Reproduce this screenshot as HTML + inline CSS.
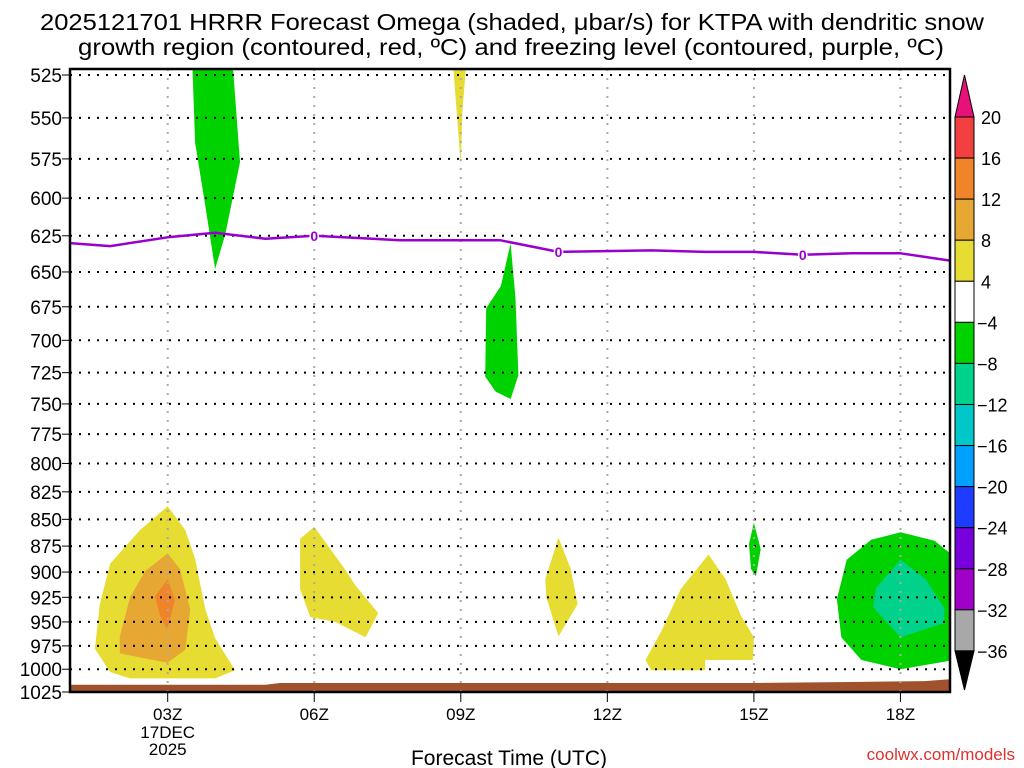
<!DOCTYPE html>
<html><head><meta charset="utf-8"><style>
body{margin:0;background:#fff;width:1024px;height:768px;overflow:hidden}
svg{display:block;font-family:"Liberation Sans Narrow","Liberation Sans",sans-serif}
</style></head><body>
<svg id="chart" width="1024" height="768" viewBox="0 0 1024 768">
<text x="40" y="30" font-size="23" textLength="944" lengthAdjust="spacingAndGlyphs">2025121701 HRRR Forecast Omega (shaded, μbar/s) for KTPA with dendritic snow</text>
<text x="78" y="55" font-size="23" textLength="866" lengthAdjust="spacingAndGlyphs">growth region (contoured, red, ºC) and freezing level (contoured, purple, ºC)</text>
<defs><clipPath id="pc"><rect x="70" y="69" width="880" height="623"/></clipPath></defs>
<g id="shades" clip-path="url(#pc)"></g>
<g id="grid"></g>
<g id="lines" clip-path="url(#pc)"></g>
<rect x="70" y="69" width="880" height="623" fill="none" stroke="#000" stroke-width="2.5"/>
<g id="axes"></g>
<g id="cbar"></g>
<text x="509" y="765" font-size="21" text-anchor="middle">Forecast Time (UTC)</text>
<text x="1015" y="760" font-size="17" fill="#e03030" text-anchor="end">coolwx.com/models</text>
</svg>
<script>
const pressureTicks=[525,550,575,600,625,650,675,700,725,750,775,800,825,850,875,900,925,950,975,1000,1025];
const hourTicks=[3,6,9,12,15,18];
const hourLabels=["03Z","06Z","09Z","12Z","15Z","18Z"];
const cbLevels=[20,16,12,8,4,-4,-8,-12,-16,-20,-24,-28,-32,-36];
const cbColors=["#f24040","#f08428","#e6a832","#e6dc32","#ffffff","#00d200","#00d28c","#00c8c8","#00a0ff","#1e3cff","#7800dc","#a000c8","#a8a8a8"];
// shaded regions: [hour, pressure]
const yellowBig=[[3,838],[2.43,860],[1.82,892],[1.61,932],[1.51,978],[1.82,1003],[2.23,1010],[3.97,1010],[4.38,1001],[3.97,967],[3.77,937],[3.56,887],[3.36,860]];
const orangeMid=[[3,882],[2.54,899],[2.23,925],[2.02,965],[2.02,983],[3,993],[3.36,979],[3.46,937],[3.25,897]];
const orangeCore=[[3,907],[2.74,924],[2.84,943],[2.99,958],[3.15,928]];
const yellow06=[[6,857],[5.71,868],[5.71,917],[5.92,945],[6.43,950],[7.05,966],[7.31,941],[6.84,913],[6.64,898]];
const yellow11=[[11,867],[10.73,907],[10.75,925],[11,965],[11.39,932],[11.25,897]];
const yellow14=[[14.07,883],[13.5,917],[13.1,960],[12.78,990],[12.9,1001],[14,1001],[14,990],[14.98,990],[15,966],[14.73,943],[14.42,907]];
const green15=[[15,853],[14.9,873],[14.94,897],[15.04,904],[15.14,878]];
const green18=[[18,862],[17.4,869],[16.9,888],[16.7,927],[16.79,966],[17.2,990],[18,1000],[19.1,990],[19.1,885],[18.7,870]];
const teal18=[[18,888],[17.5,916],[17.44,935],[18,966],[18.9,951],[18.9,936],[18.52,907]];
const green04=[[3.5,515],[4.32,515],[4.48,577],[4.18,624],[3.97,648],[3.77,605],[3.56,565]];
const yellow09=[[8.83,515],[9.12,515],[9.03,547],[9,579]];
const green10=[[10.02,630],[9.82,660],[9.52,676],[9.5,728],[9.71,740],[10.02,746],[10.18,727],[10.12,669]];
const frzHours=[1,1.82,3,3.97,5,6,7.76,9.8,11,12.9,14,15,16,17,18,19];
const frzPress=[630,632,626,623,627,625,628,628,636,635,636,636,638,637,637,642];
const sfcHours=[1,5,5.3,9,12,15,17,18.5,19];
const sfcPress=[1017,1017,1015,1015,1015,1015,1014,1013,1011];

const NS='http://www.w3.org/2000/svg';
const X=h=>70+(h-1)*48.85;
const L0=Math.log(525),L1=Math.log(1025);
const Y=p=>75+(Math.log(p)-L0)/(L1-L0)*617;
function mk(t,a,par){const e=document.createElementNS(NS,t);for(const k in a)e.setAttribute(k,a[k]);document.getElementById(par).appendChild(e);return e;}
function poly(arr,fill,name){
  const e=mk('polygon',{points:arr.map(q=>X(q[0]).toFixed(1)+','+Y(q[1]).toFixed(1)).join(' '),fill:fill},'shades');
  
  
}
poly(yellowBig,'#e6dc32','omega-4-8-blob-03z');
poly(orangeMid,'#e6a832','omega-8-12-blob-03z');
poly(orangeCore,'#f08428','omega-12-16-blob-03z');
poly(yellow06,'#e6dc32','omega-4-8-blob-06z');
poly(yellow11,'#e6dc32','omega-4-8-blob-11z');
poly(yellow14,'#e6dc32','omega-4-8-blob-14z');
poly(green15,'#00d200','omega-neg-blob-15z');
poly(green18,'#00d200','omega-neg-blob-18z');
poly(teal18,'#00d28c','omega-neg8-blob-18z');
poly(green04,'#00d200','omega-neg-blob-04z');
poly(yellow09,'#e6dc32','omega-4-8-blob-09z');
poly(green10,'#00d200','omega-neg-blob-10z');
{let pts=sfcHours.map((h,i)=>X(h).toFixed(1)+','+Y(sfcPress[i]).toFixed(1));
 pts.push(X(19)+','+700,X(1)+','+700);
 const e=mk('polygon',{points:pts.join(' '),fill:'#a0522d'},'shades');
 
 }
pressureTicks.forEach(p=>{
  const y=Y(p);
  const g=mk('line',{x1:70,x2:950,y1:y,y2:y,stroke:'#000','stroke-width':2,'stroke-dasharray':'2 7'},'grid');
  
  
  const t=mk('text',{x:62,y:y+7,'font-size':19,'text-anchor':'end'},'axes');
  t.textContent=p;
  
  
  const tk=mk('line',{x1:62,x2:70,y1:y,y2:y,stroke:'#000','stroke-width':1},'axes');
  
  
});
hourTicks.forEach((h,i)=>{
  const x=X(h);
  const g=mk('line',{x1:x,x2:x,y1:69,y2:692,stroke:'#aaa','stroke-width':2,'stroke-dasharray':'2 7'},'grid');
  
  
  const tk=mk('line',{x1:x,x2:x,y1:692,y2:702,stroke:'#000','stroke-width':1},'axes');
  
  
  const t=mk('text',{x:x,y:720,'font-size':17,'text-anchor':'middle'},'axes');
  t.textContent=hourLabels[i];
  
  
});
{const a=mk('text',{x:X(3),y:738,'font-size':17,'text-anchor':'middle'},'axes');a.textContent='17DEC';


const b=mk('text',{x:X(3),y:755,'font-size':17,'text-anchor':'middle'},'axes');b.textContent='2025';

}
{const pl=mk('polyline',{points:frzHours.map((h,i)=>X(h).toFixed(1)+','+Y(frzPress[i]).toFixed(1)).join(' '),fill:'none',stroke:'#9900cc','stroke-width':2.5,'stroke-linejoin':'round'},'lines');


[6,11,16].forEach(h=>{const i=frzHours.indexOf(h);
 const t=mk('text',{x:X(h),y:Y(frzPress[i])+5,'font-size':14,'font-weight':'bold',fill:'#9900cc','text-anchor':'middle',stroke:'#fff','stroke-width':3,'paint-order':'stroke'},'lines');
 t.textContent='0';
 
 });}
{const cx=955,cw=19,top=117,step=41.07;
 const up=mk('polygon',{points:`${cx},${top} ${cx+cw},${top} ${cx+cw/2},75`,fill:'#e6127a',stroke:'#000'},'cbar');
 
 
 cbColors.forEach((c,i)=>{const r=mk('rect',{x:cx,y:top+i*step,width:cw,height:step,fill:c,stroke:'#000'},'cbar');
  
  });
 const yb=top+cbColors.length*step;
 const dn=mk('polygon',{points:`${cx},${yb} ${cx+cw},${yb} ${cx+cw/2},690`,fill:'#000',stroke:'#000'},'cbar');
 
 
 cbLevels.forEach((v,i)=>{const t=mk('text',{x:v<0?977:981,y:top+i*step+7,'font-size':18},'cbar');
  t.textContent=v<0?'\u2212'+(-v):v;
  
  });}
</script>
</body></html>
